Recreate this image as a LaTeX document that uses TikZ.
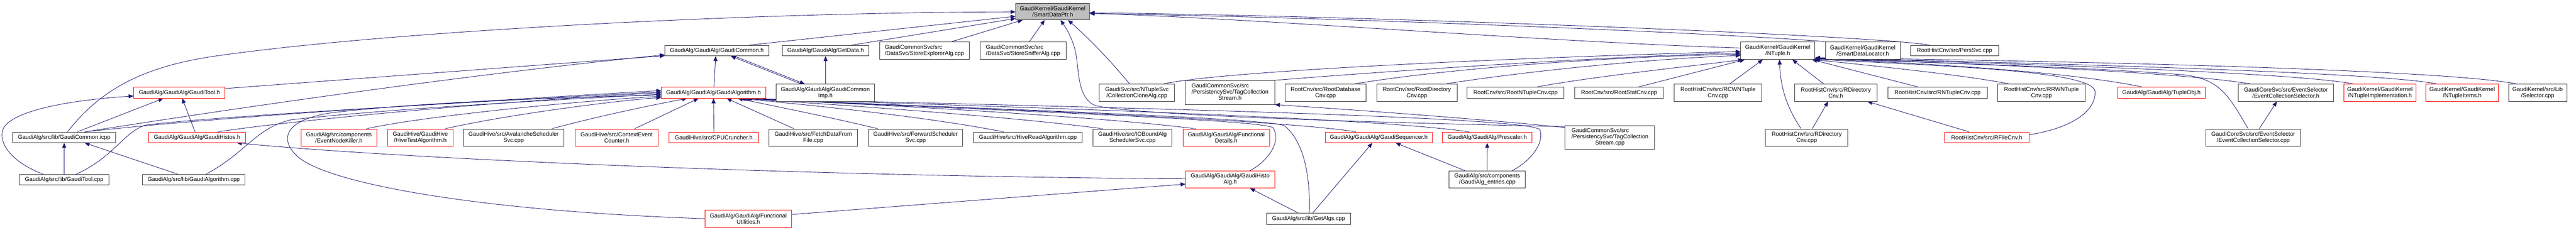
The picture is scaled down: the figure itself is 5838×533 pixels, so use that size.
\documentclass[tikz,border=0pt]{standalone}
\usepackage{fontspec}
\setmainfont{Liberation Sans}
\usetikzlibrary{arrows.meta}
\definecolor{edgec}{HTML}{191970}
\definecolor{nodegray}{HTML}{BFBFBF}
\pgfdeclarelayer{background}
\pgfsetlayers{background,main}
\begin{document}
\begin{tikzpicture}[x=1pt,y=-1pt,
  nbox/.style={draw=black!80, line width=1pt, fill=white, inner sep=0pt, rectangle, align=center, font=\fontsize{13}{14}\selectfont},
  rbox/.style={nbox, draw=red},
  gbox/.style={nbox, fill=nodegray},
  edge/.style={draw=edgec, line width=1pt, -{Triangle[length=11pt,width=9pt]}}]
\useasboundingbox (0,0) rectangle (5838,533);

% ---- top rows
\node[gbox, minimum width=167pt, minimum height=38pt] (smartptr) at (2385.5,26) {GaudiKernel/GaudiKernel\\/SmartDataPtr.h};
\node[nbox, minimum width=235pt, minimum height=24pt] (gcommonh) at (1624.5,115) {GaudiAlg/GaudiAlg/GaudiCommon.h};
\node[nbox, minimum width=196pt, minimum height=24pt] (getdata) at (1871,115) {GaudiAlg/GaudiAlg/GetData.h};
\node[nbox, align=left, minimum width=204pt, minimum height=40pt] (storeexp) at (2095,115) {GaudiCommonSvc/src\\/DataSvc/StoreExplorerAlg.cpp};
\node[nbox, align=left, minimum width=195pt, minimum height=40pt] (storesniff) at (2318.5,115) {GaudiCommonSvc/src\\/DataSvc/StoreSnifferAlg.cpp};
\node[nbox, minimum width=168pt, minimum height=40pt] (ntuple) at (4029,115) {GaudiKernel/GaudiKernel\\/NTuple.h};
\node[nbox, minimum width=169pt, minimum height=40pt] (sdlocator) at (4221.5,115) {GaudiKernel/GaudiKernel\\/SmartDataLocator.h};
\node[nbox, minimum width=199pt, minimum height=24pt] (perssvc) at (4429.5,115) {RootHistCnv/src/PersSvc.cpp};

% ---- row 210
\node[rbox, minimum width=207pt, minimum height=25pt] (gtoolh) at (406.5,210.5) {GaudiAlg/GaudiAlg/GaudiTool.h};
\node[rbox, minimum width=236pt, minimum height=25pt] (galgh) at (1617,210.5) {GaudiAlg/GaudiAlg/GaudiAlgorithm.h};
\node[nbox, minimum width=223pt, minimum height=39pt] (gcommonimp) at (1870.5,210.5) {GaudiAlg/GaudiAlg/GaudiCommon\\Imp.h};
\node[nbox, minimum width=171pt, minimum height=39pt] (cloneAlg) at (2576.5,210.5) {GaudiSvc/src/NTupleSvc\\/CollectionCloneAlg.cpp};
\node[nbox, minimum width=203pt, minimum height=54pt] (tagh) at (2787.5,210) {\begin{tabular}{@{}l@{}}GaudiCommonSvc/src\\/PersistencySvc/TagCollection\\\multicolumn{1}{@{}c@{}}{Stream.h}\end{tabular}};
\node[nbox, minimum width=184pt, minimum height=39pt] (rootdb) at (3004,210.5) {RootCnv/src/RootDatabase\\Cnv.cpp};
\node[nbox, minimum width=182pt, minimum height=39pt] (rootdir) at (3211,210.5) {RootCnv/src/RootDirectory\\Cnv.cpp};
\node[nbox, minimum width=219pt, minimum height=25pt] (rootnt) at (3434.5,210.5) {RootCnv/src/RootNTupleCnv.cpp};
\node[nbox, minimum width=201pt, minimum height=25pt] (rootstat) at (3669.5,210.5) {RootCnv/src/RootStatCnv.cpp};
\node[nbox, minimum width=199pt, minimum height=39pt] (rcwnt) at (3893.5,210.5) {RootHistCnv/src/RCWNTuple\\Cnv.cpp};
\node[nbox, minimum width=187pt, minimum height=39pt] (rdirh) at (4160.5,210.5) {RootHistCnv/src/RDirectory\\Cnv.h};
\node[nbox, minimum width=226pt, minimum height=25pt] (rntcnv) at (4391,210.5) {RootHistCnv/src/RNTupleCnv.cpp};
\node[nbox, minimum width=199pt, minimum height=39pt] (rrwnt) at (4626.5,210.5) {RootHistCnv/src/RRWNTuple\\Cnv.cpp};
\node[rbox, minimum width=199pt, minimum height=25pt] (tupleobj) at (4898.5,210.5) {GaudiAlg/GaudiAlg/TupleObj.h};
\node[nbox, minimum width=215pt, minimum height=39pt] (ecsh) at (5180.5,210.5) {GaudiCoreSvc/src/EventSelector\\/EventCollectionSelector.h};
\node[rbox, minimum width=163pt, minimum height=39pt] (ntimpl) at (5393.5,210.5) {GaudiKernel/GaudiKernel\\/NTupleImplementation.h};
\node[rbox, minimum width=164pt, minimum height=39pt] (ntitems) at (5580,210.5) {GaudiKernel/GaudiKernel\\/NTupleItems.h};
\node[nbox, minimum width=132pt, minimum height=39pt] (selector) at (5751,210.5) {GaudiKernel/src/Lib\\/Selector.cpp};

% ---- row 312
\node[nbox, minimum width=233pt, minimum height=24pt] (gcicpp) at (145.5,312) {GaudiAlg/src/lib/GaudiCommon.icpp};
\node[rbox, minimum width=219pt, minimum height=24pt] (ghistosh) at (446.5,312) {GaudiAlg/GaudiAlg/GaudiHistos.h};
\node[rbox, minimum width=172pt, minimum height=39pt] (nodekiller) at (768,312.5) {GaudiAlg/src/components\\/EventNodeKiller.h};
\node[rbox, minimum width=149pt, minimum height=39pt] (hivetest) at (952.5,312.5) {GaudiHive/GaudiHive\\/HiveTestAlgorithm.h};
\node[nbox, minimum width=228pt, minimum height=39pt] (avalanche) at (1164,312.5) {GaudiHive/src/AvalancheScheduler\\Svc.cpp};
\node[rbox, minimum width=189pt, minimum height=39pt] (ctxcounter) at (1397.5,312.5) {GaudiHive/src/ContextEvent\\Counter.h};
\node[rbox, minimum width=203pt, minimum height=24pt] (cpucruncher) at (1617.5,312) {GaudiHive/src/CPUCruncher.h};
\node[nbox, minimum width=200pt, minimum height=39pt] (fetchdata) at (1843,312.5) {GaudiHive/src/FetchDataFrom\\File.cpp};
\node[nbox, minimum width=214pt, minimum height=39pt] (fwdsched) at (2075,312.5) {GaudiHive/src/ForwardScheduler\\Svc.cpp};
\node[nbox, minimum width=247pt, minimum height=24pt] (hiveread) at (2329.5,312) {GaudiHive/src/HiveReadAlgorithm.cpp};
\node[nbox, minimum width=179pt, minimum height=39pt] (iobound) at (2566.5,312.5) {GaudiHive/src/IOBoundAlg\\SchedulerSvc.cpp};
\node[rbox, minimum width=196pt, minimum height=39pt] (fdetails) at (2779,312.5) {GaudiAlg/GaudiAlg/Functional\\Details.h};
\node[rbox, minimum width=243pt, minimum height=24pt] (gseq) at (3124.5,312) {GaudiAlg/GaudiAlg/GaudiSequencer.h};
\node[rbox, minimum width=203pt, minimum height=24pt] (prescaler) at (3370.5,312) {GaudiAlg/GaudiAlg/Prescaler.h};
\node[nbox, minimum width=203pt, minimum height=54pt] (tagcpp) at (3648.5,312) {\begin{tabular}{@{}l@{}}GaudiCommonSvc/src\\/PersistencySvc/TagCollection\\\multicolumn{1}{@{}c@{}}{Stream.cpp}\end{tabular}};
\node[nbox, minimum width=187pt, minimum height=39pt] (rdircpp) at (4094.5,312.5) {RootHistCnv/src/RDirectory\\Cnv.cpp};
\node[rbox, minimum width=191pt, minimum height=24pt] (rfilecnv) at (4502.5,312) {RootHistCnv/src/RFileCnv.h};
\node[nbox, minimum width=215pt, minimum height=39pt] (ecscpp) at (5106.5,312.5) {GaudiCoreSvc/src/EventSelector\\/EventCollectionSelector.cpp};

% ---- row 408
\node[nbox, minimum width=203pt, minimum height=24pt] (gtoolcpp) at (145.5,408) {GaudiAlg/src/lib/GaudiTool.cpp};
\node[nbox, minimum width=232pt, minimum height=24pt] (galgcpp) at (439,408) {GaudiAlg/src/lib/GaudiAlgorithm.cpp};
\node[rbox, minimum width=202pt, minimum height=39pt] (histoalg) at (2788,407.5) {GaudiAlg/GaudiAlg/GaudiHisto\\Alg.h};
\node[nbox, minimum width=173pt, minimum height=39pt] (algentries) at (3370.5,407.5) {GaudiAlg/src/components\\/GaudiAlg\_entries.cpp};

% ---- row 496
\node[rbox, minimum width=196pt, minimum height=39pt] (futil) at (1696,496.5) {GaudiAlg/GaudiAlg/Functional\\Utilities.h};
\node[nbox, minimum width=191pt, minimum height=25pt] (getalgs) at (2965.5,496.5) {GaudiAlg/src/lib/GetAlgs.cpp};

\begin{pgfonlayer}{background}
\fill[white] (0,0) rectangle (5838,533);
% into SmartDataPtr.h
\draw[edge] ([xshift=7.5pt]gcicpp.north) .. controls (230,200) and (330,150) .. (490,127) .. controls (890,70) and (1700,28) .. ([yshift=-1pt]smartptr.west);
\draw[edge] ([xshift=73.5pt]gcommonh.north) -- ([yshift=-11pt]smartptr.west);
\draw[edge] ([xshift=59pt]getdata.north) -- ([yshift=-16pt]smartptr.west);
\draw[edge] ([xshift=62pt]storeexp.north) -- ([xshift=-68pt]smartptr.south);
\draw[edge] ([xshift=14.5pt]storesniff.north) -- ([xshift=-18pt]smartptr.south);
\draw[edge] ([yshift=-3pt]tagcpp.north west) .. controls (3200,280) and (2600,265) .. (2483,240) .. controls (2445,225) and (2445,170) .. (2440,133) .. controls (2435,95) and (2420,70) .. ([xshift=18pt]smartptr.south);
\draw[edge] ([xshift=-16.5pt]cloneAlg.north) .. controls (2510,130) and (2465,85) .. ([xshift=35pt]smartptr.south);
\draw[edge] ([yshift=6pt]ntuple.west) .. controls (3500,95) and (2900,45) .. ([yshift=-4pt]smartptr.east);
\draw[edge] ([xshift=-84pt]sdlocator.north) .. controls (3900,75) and (3000,38) .. ([yshift=-5pt]smartptr.east);
\draw[edge] ([xshift=-56.5pt]perssvc.north) .. controls (4250,80) and (3100,36) .. ([yshift=-3pt]smartptr.east);

% into GaudiCommon.h
\draw[edge] ([yshift=9.5pt]gtoolh.east) -- ([yshift=1pt]gcommonh.south west);
\draw[edge] ([xshift=46.5pt]gcicpp.north) .. controls (600,235) and (1100,165) .. ([yshift=3pt]gcommonh.south west);
\draw[edge] ([xshift=1pt]galgh.north) -- ([xshift=-2.5pt]gcommonh.south);
\draw[edge] ([xshift=-55pt]gcommonimp.north) -- ([xshift=32pt]gcommonh.south);
\draw[edge] ([xshift=40pt]gcommonh.south) -- ([xshift=-47pt]gcommonimp.north);
\draw[edge] ([xshift=0.5pt]gcommonimp.north) -- (getdata.south);

% into GaudiTool.h
\draw[edge] ([xshift=-47.5pt]gtoolcpp.north) .. controls (30,370) and (0,330) .. (5,300) .. controls (10,260) and (120,230) .. ([yshift=-7.5pt]gtoolh.west);
\draw[edge] ([xshift=29.5pt]gcicpp.north) -- ([xshift=-36.5pt]gtoolh.south);
\draw[edge] ([xshift=-4.5pt]ghistosh.north) -- ([xshift=6.5pt]gtoolh.south);

% into GaudiCommon.icpp
\draw[edge] (gtoolcpp.north) -- (gcicpp.south);
\draw[edge] ([xshift=-36pt]galgcpp.north) -- ([xshift=46.5pt]gcicpp.south);

% into GaudiHistos.h / GaudiHistoAlg.h
\draw[edge] ([yshift=1.5pt]histoalg.west) .. controls (1800,400) and (900,360) .. ([xshift=90.5pt]ghistosh.south);
\draw[edge] ([yshift=9.5pt]futil.east) -- ([yshift=-10.5pt]histoalg.west);
\draw[edge] ([xshift=-23.5pt]getalgs.north) -- ([xshift=45pt]histoalg.south);

% into GaudiSequencer.h / Prescaler.h
\draw[edge] ([xshift=9.5pt]getalgs.north) -- ([xshift=-14.5pt]gseq.south);
\draw[edge] ([xshift=-50.5pt]algentries.north) -- ([xshift=38.5pt]gseq.south);
\draw[edge] ([xshift=-0.5pt]algentries.north) -- (prescaler.south);

% into TagCollectionStream.h
\draw[edge] ([yshift=-5pt]tagcpp.north west) .. controls (3300,265) and (3000,245) .. (tagh.south east);

% into RDirectoryCnv.h / EventCollectionSelector.h
\draw[edge] ([xshift=12.5pt]rdircpp.north) -- ([xshift=-17.5pt]rdirh.south);
\draw[edge] ([xshift=-39.5pt]rfilecnv.north) -- ([xshift=71.5pt]rdirh.south);
\draw[edge] ([xshift=13.5pt]ecscpp.north) -- ([xshift=-20.5pt]ecsh.south);

% into NTuple.h
\draw[edge] ([xshift=60.5pt]cloneAlg.north) .. controls (2750,165) and (3300,135) .. ([yshift=-2pt]ntuple.west);
\draw[edge] ([xshift=99pt]tagh.north) .. controls (3100,165) and (3600,130) .. ([yshift=-5pt]ntuple.west);
\draw[edge] ([xshift=66pt]rootdb.north) .. controls (3250,160) and (3600,130) .. ([yshift=-8pt]ntuple.west);
\draw[edge] ([xshift=66pt]rootdir.north) .. controls (3400,170) and (3700,135) .. ([yshift=-11pt]ntuple.west);
\draw[edge] ([xshift=48.5pt]rootnt.north) .. controls (3600,175) and (3850,148) .. ([xshift=-79pt]ntuple.south);
\draw[edge] ([xshift=43.5pt]rootstat.north) -- ([xshift=-75pt]ntuple.south);
\draw[edge] ([xshift=26.5pt]rcwnt.north) -- ([xshift=-34pt]ntuple.south);
\draw[edge] ([xshift=-12.5pt]rdircpp.north) .. controls (4050,245) and (4035,200) .. ([xshift=4pt]ntuple.south);
\draw[edge] ([xshift=-27.5pt]rdirh.north) -- ([xshift=33pt]ntuple.south);
\draw[edge] ([xshift=-44pt]rntcnv.north) -- ([xshift=78pt]ntuple.south);
\draw[edge] ([xshift=-73.5pt]rrwnt.north) .. controls (4450,170) and (4250,150) .. ([xshift=-2pt]ntuple.south east);
\draw[edge] ([yshift=6pt]rfilecnv.east) .. controls (4700,290) and (4750,250) .. (4748,208) .. controls (4745,160) and (4400,150) .. ([yshift=1pt]ntuple.south east);
\draw[edge] ([xshift=-43.5pt]tupleobj.north) .. controls (4700,165) and (4400,145) .. ([yshift=2pt]ntuple.south east);
\draw[edge] ([xshift=-80.5pt]ecsh.north) .. controls (4950,165) and (4500,145) .. ([yshift=3pt]ntuple.south east);
\draw[edge] ([xshift=-11.5pt]ecscpp.north) .. controls (5050,215) and (5030,180) .. (4950,170) .. controls (4700,150) and (4300,140) .. ([yshift=2.5pt]ntuple.south east);
\draw[edge] ([xshift=-60.5pt]ntimpl.north) .. controls (5200,165) and (4600,145) .. ([yshift=3.5pt]ntuple.south east);
\draw[edge] ([xshift=-58pt]ntitems.north) .. controls (5400,165) and (4700,145) .. ([yshift=4pt]ntuple.south east);
\draw[edge] ([xshift=-48pt]selector.north) .. controls (5550,160) and (4800,140) .. ([yshift=4.5pt]ntuple.south east);

% into GaudiAlgorithm.h from the left
\draw[edge] ([xshift=46.5pt]gcicpp.north) .. controls (500,265) and (1000,235) .. ([yshift=5pt]galgh.west);
\draw[edge] ([xshift=27.5pt]gtoolcpp.north) .. controls (260,355) and (280,300) .. (330,284) .. controls (500,262) and (1200,225) .. ([yshift=2pt]galgh.west);
\draw[edge] ([xshift=46.5pt]ghistosh.north) .. controls (650,275) and (1100,232) .. (galgh.west);
\draw[edge] ([xshift=28pt]galgcpp.north) .. controls (560,345) and (580,290) .. (660,272) .. controls (900,245) and (1300,225) .. ([yshift=-3pt]galgh.west);
\draw[edge] (futil.west) .. controls (1100,480) and (760,420) .. (680,360) .. controls (630,320) and (640,270) .. (760,255) .. controls (1000,228) and (1300,222) .. ([yshift=-5pt]galgh.west);
\draw[edge] ([xshift=62pt]nodekiller.north) .. controls (950,265) and (1300,230) .. ([yshift=-8pt]galgh.west);
\draw[edge] ([xshift=55.5pt]hivetest.north) .. controls (1150,260) and (1400,228) .. ([yshift=-11pt]galgh.west);
% into GaudiAlgorithm.h from below / right
\draw[edge] ([xshift=86pt]avalanche.north) .. controls (1350,265) and (1480,238) .. ([xshift=-60pt]galgh.south);
\draw[edge] ([xshift=40.5pt]ctxcounter.north) -- ([xshift=-34pt]galgh.south);
\draw[edge] ([xshift=0.5pt]cpucruncher.north) -- (galgh.south);
\draw[edge] ([xshift=-43pt]fetchdata.north) -- ([xshift=30pt]galgh.south);
\draw[edge] ([xshift=-85pt]fwdsched.north) .. controls (1900,270) and (1750,240) .. ([xshift=55pt]galgh.south);
\draw[edge] ([xshift=-54.5pt]hiveread.north) .. controls (2100,265) and (1850,240) .. ([xshift=60pt]galgh.south);
\draw[edge] ([xshift=-66.5pt]iobound.north) .. controls (2300,265) and (1900,238) .. ([xshift=63pt]galgh.south);
\draw[edge] ([xshift=-69pt]fdetails.north) .. controls (2500,265) and (2000,238) .. ([xshift=66pt]galgh.south);
\draw[edge] ([xshift=45pt]histoalg.north) .. controls (2875,365) and (2905,320) .. (2885,290) .. controls (2860,270) and (2100,245) .. ([xshift=69pt]galgh.south);
\draw[edge] ([xshift=1.5pt]getalgs.north) .. controls (2970,400) and (2955,320) .. (2910,285) .. controls (2850,265) and (2100,243) .. ([xshift=70pt]galgh.south);
\draw[edge] ([xshift=-51.5pt]gseq.north) .. controls (2900,270) and (2100,242) .. ([xshift=72pt]galgh.south);
\draw[edge] ([xshift=-40.5pt]prescaler.north) .. controls (3100,265) and (2200,240) .. ([xshift=74pt]galgh.south);
\draw[edge] ([xshift=56.5pt]algentries.north) .. controls (3470,365) and (3500,325) .. (3490,295) .. controls (3475,262) and (2300,240) .. ([xshift=76pt]galgh.south);
\end{pgfonlayer}
\end{tikzpicture}
\end{document}
